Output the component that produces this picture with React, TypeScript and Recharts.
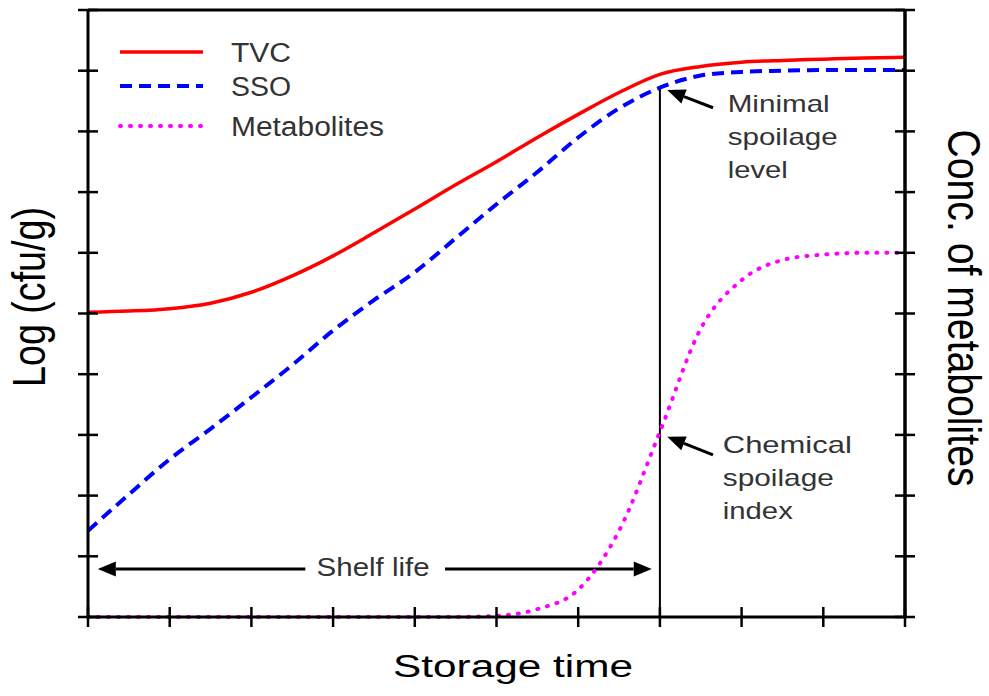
import { LineChart, Line, XAxis, YAxis, ReferenceLine, ReferenceDot, Legend } from 'recharts';

// storage time, arbitrary units (0..10 along the x axis)
const times = [0, 0.5, 1, 1.5, 2, 2.5, 3, 3.5, 4, 4.5, 5, 5.5, 6, 6.5, 7, 7.5, 8, 8.5, 9, 9.5, 10];
// log cfu/g, total viable count
const tvc = [5.02, 5.04, 5.08, 5.17, 5.35, 5.62, 5.95, 6.33, 6.72, 7.12, 7.5, 7.9, 8.28, 8.64, 8.94, 9.07, 9.14, 9.17, 9.19, 9.21, 9.22];
// log cfu/g, specific spoilage organisms
const sso = [1.42, 2.02, 2.6, 3.1, 3.62, 4.15, 4.72, 5.22, 5.68, 6.24, 6.8, 7.33, 7.9, 8.38, 8.72, 8.92, 8.98, 9.0, 9.01, 9.01, 9.01];
// concentration of metabolites (right axis)
const metabolites = [0, 0, 0, 0, 0, 0, 0, 0, 0, 0, 0.02, 0.13, 0.45, 1.42, 3.05, 4.75, 5.55, 5.88, 5.97, 6.0, 6.0];

const axisTicks = [0, 1, 2, 3, 4, 5, 6, 7, 8, 9, 10];
const seriesNames = ['TVC', 'SSO', 'Metabolites'];

const rows = times.map((t, i) => ({ t, tvc: tvc[i], sso: sso[i], met: metabolites[i] }));

const FONT = '"Liberation Sans", Arial, sans-serif';

const lineStyles: Record<string, any> = {
  TVC: { stroke: '#ff0000', strokeWidth: 3.5 },
  SSO: { stroke: '#0000ff', strokeWidth: 4, strokeDasharray: '12 7' },
  Metabolites: { stroke: '#ff00ff', strokeWidth: 4, strokeDasharray: '1 9', strokeLinecap: 'round' },
};

// annotation anchors, in data units
const spoilageTime = 7;
const shelfLifeLevel = 0.79;

const YTick = (p: any) => (
  <line x1={p.x - 10} x2={p.x + 10} y1={p.y} y2={p.y} stroke="#000" strokeWidth={2.5} />
);
const XTick = (p: any) => (
  <line x1={p.x} x2={p.x} y1={p.y - 10} y2={p.y + 10} stroke="#000" strokeWidth={2.5} />
);

const arrowShape = (p: any) => {
  const { x1, y1, x2, y2 } = p;
  const dx = x2 - x1;
  const dy = y2 - y1;
  const len = Math.hypot(dx, dy) || 1;
  const ux = dx / len;
  const uy = dy / len;
  const hl = 18;
  const hw = 7.5;
  const bx = x2 - ux * hl;
  const by = y2 - uy * hl;
  return (
    <g>
      <line x1={x1} y1={y1} x2={bx} y2={by} stroke="#000" strokeWidth={3} />
      <polygon
        points={`${x2},${y2} ${bx - uy * hw},${by + ux * hw} ${bx + uy * hw},${by - ux * hw}`}
        fill="#000"
      />
    </g>
  );
};

const noteText = (lines: string[], lengths: number[], size: number, anchor = 'start') => (p: any) => (
  <g>
    {lines.map((s, i) => (
      <text
        key={s}
        x={p.cx}
        y={p.cy + i * 33}
        fontSize={size}
        fontFamily={FONT}
        fill="#333"
        textAnchor={anchor}
        textLength={lengths[i]}
        lengthAdjust="spacingAndGlyphs"
      >
        {s}
      </text>
    ))}
  </g>
);

const legendRows = [52, 86, 126];
const legendWidths = [60, 60, 153];

const renderLegend = () => (
  <svg width={420} height={150} style={{ display: 'block' }}>
    {seriesNames.map((name, i) => (
      <g key={name}>
        <line x1={120} x2={203} y1={legendRows[i]} y2={legendRows[i]} {...lineStyles[name]} />
        <text
          x={231}
          y={legendRows[i] + 10}
          fontSize={27}
          fontFamily={FONT}
          fill="#333"
          textLength={legendWidths[i]}
          lengthAdjust="spacingAndGlyphs"
        >
          {name}
        </text>
      </g>
    ))}
  </svg>
);

const xTitle = () => (
  <text x={513} y={677} textAnchor="middle" fontSize={31} fontFamily={FONT} fill="#000"
    textLength={240} lengthAdjust="spacingAndGlyphs">
    Storage time
  </text>
);
const yTitle = () => (
  <text transform="translate(45,297) scale(1.2,1) rotate(-90)" textAnchor="middle" fontSize={38}
    fontFamily={FONT} fill="#000" textLength={180} lengthAdjust="spacingAndGlyphs">
    Log (cfu/g)
  </text>
);
const y2Title = () => (
  <text transform="translate(948,308) scale(1.2,1) rotate(90)" textAnchor="middle" fontSize={39}
    fontFamily={FONT} fill="#000" textLength={357} lengthAdjust="spacingAndGlyphs">
    Conc. of metabolites
  </text>
);

export default function App() {
  return (
    <div style={{ position: 'absolute', left: 0, top: 0, background: '#fff' }}>
      <LineChart width={989} height={696} data={rows} margin={{ top: 9, right: 83, bottom: 78, left: 87 }}>
        <XAxis
          dataKey="t"
          type="number"
          domain={[0, 10]}
          ticks={axisTicks}
          interval={0}
          height={1}
          tickSize={0}
          tickMargin={0}
          tickLine={false}
          tick={XTick}
          axisLine={{ stroke: '#000', strokeWidth: 3 }}
          label={xTitle}
        />
        <XAxis
          xAxisId="top"
          orientation="top"
          type="number"
          domain={[0, 10]}
          ticks={axisTicks}
          height={1}
          tick={false}
          tickLine={false}
          axisLine={{ stroke: '#000', strokeWidth: 3 }}
        />
        <YAxis
          yAxisId="left"
          type="number"
          domain={[0, 10]}
          ticks={axisTicks}
          interval={0}
          width={1}
          tickSize={0}
          tickMargin={0}
          tickLine={false}
          tick={YTick}
          axisLine={{ stroke: '#000', strokeWidth: 3 }}
          label={yTitle}
        />
        <YAxis
          yAxisId="right"
          orientation="right"
          type="number"
          domain={[0, 10]}
          ticks={axisTicks}
          interval={0}
          width={1}
          tickSize={0}
          tickMargin={0}
          tickLine={false}
          tick={YTick}
          axisLine={{ stroke: '#000', strokeWidth: 3.5 }}
          label={y2Title}
        />
        <Legend content={renderLegend} layout="vertical" align="center" verticalAlign="middle"
          wrapperStyle={{ left: 0, top: 0, width: 420, height: 150 }} />

        <ReferenceLine yAxisId="left" segment={[{ x: spoilageTime, y: 0 }, { x: spoilageTime, y: 8.72 }]}
          stroke="#000" strokeWidth={2} />
        <ReferenceLine yAxisId="left" segment={[{ x: 2.66, y: shelfLifeLevel }, { x: 0.12, y: shelfLifeLevel }]}
          shape={arrowShape} />
        <ReferenceLine yAxisId="left" segment={[{ x: 4.37, y: shelfLifeLevel }, { x: 6.9, y: shelfLifeLevel }]}
          shape={arrowShape} />
        <ReferenceLine yAxisId="left" segment={[{ x: 7.65, y: 8.39 }, { x: 7.09, y: 8.68 }]} shape={arrowShape} />
        <ReferenceLine yAxisId="left" segment={[{ x: 7.65, y: 2.67 }, { x: 7.09, y: 2.97 }]} shape={arrowShape} />

        <ReferenceDot yAxisId="left" x={3.49} y={0.675}
          shape={noteText(['Shelf life'], [113], 25, 'middle')} />
        <ReferenceDot yAxisId="left" x={7.83} y={8.32}
          shape={noteText(['Minimal', 'spoilage', 'level'], [102, 110, 60], 24)} />
        <ReferenceDot yAxisId="left" x={7.77} y={2.7}
          shape={noteText(['Chemical', 'spoilage', 'index'], [129, 111, 70], 24)} />

        <Line yAxisId="left" type="monotone" dataKey="tvc" name="TVC" dot={false} activeDot={false}
          isAnimationActive={false} {...lineStyles.TVC} />
        <Line yAxisId="left" type="monotone" dataKey="sso" name="SSO" dot={false} activeDot={false}
          isAnimationActive={false} {...lineStyles.SSO} />
        <Line yAxisId="right" type="monotone" dataKey="met" name="Metabolites" dot={false} activeDot={false}
          isAnimationActive={false} {...lineStyles.Metabolites} />
      </LineChart>
    </div>
  );
}
